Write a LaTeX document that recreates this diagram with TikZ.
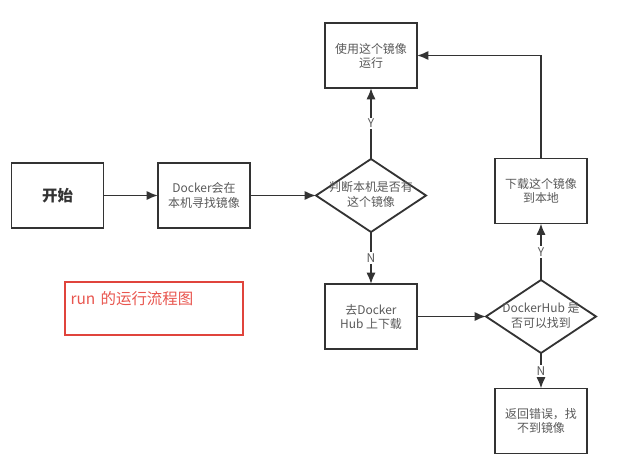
\documentclass[tikz,border=0pt]{standalone}
\usepackage{fontspec}
\setmainfont{Noto Sans CJK SC}
\usepackage{xcolor,tikz}
\usetikzlibrary{shapes.geometric,arrows.meta}
\definecolor{flowLine}{HTML}{333333}
\definecolor{flowText}{HTML}{595959}
\definecolor{flowRedLine}{HTML}{E0443C}
\definecolor{flowRedText}{HTML}{E8554E}

% text inside a diamond, kept out of the shape's size
\newcommand{\dtext}[1]{\smash{\makebox[0pt]{\raisebox{-0.25em}{%
  \begin{tabular}{@{}c@{}}#1\end{tabular}}}}}

\begin{document}
\begin{tikzpicture}[x=0.025cm, y=-0.025cm,
    stepbox/.style={draw=flowLine, line width=1.3pt, fill=white,
      minimum width=2.3cm, minimum height=1.625cm, align=center,
      inner sep=2pt, outer sep=0pt, text=flowText,
      font=\fontsize{8.5}{10}\selectfont},
    decision/.style={draw=flowLine, line width=1.3pt, diamond, fill=white,
      minimum width=2.75cm, minimum height=1.825cm, inner sep=0pt,
      outer sep=0pt, text=flowText, font=\fontsize{8.5}{10.5}\selectfont},
    flow/.style={draw=flowLine, line width=1.3pt,
      -{Latex[length=8pt,width=6.5pt]}},
    yn/.style={fill=white, text=flowText, inner sep=1pt,
      font=\fontsize{8.5}{10}\selectfont}]

\useasboundingbox (0,0) rectangle (638,460);

%% main line ==========================================================
\node[stepbox, font=\fontsize{11}{13}\selectfont\bfseries, text=flowLine]
  (start) at (57.5, 195.5) {开始};
\node[stepbox] (look) at (204, 195.5) {Docker会在\\本机寻找镜像};
\node[decision] (chk) at (371, 195.5) {\dtext{判断本机是否有\\这个镜像}};
\node[stepbox] (run) at (371, 55.5) {使用这个镜像\\运行};
\node[stepbox] (pull) at (371, 316.5) {去Docker\\Hub 上下载};
\node[decision] (found) at (541, 316.5) {\dtext{DockerHub 是\\否可以找到}};
\node[stepbox] (dl) at (541, 191) {下载这个镜像\\到本地};
\node[stepbox] (err) at (541, 421) {返回错误，找\\不到镜像};

%% caption box =========================================================
\node[draw=flowRedLine, line width=1pt, text=flowRedText,
      text width=4.45cm-8pt, text height=12pt, text depth=17.6pt,
      inner sep=4pt, align=left, font=\fontsize{11}{13}\selectfont]
  (note) at (154, 308.5) {run 的运行流程图};

%% connectors ==========================================================
\draw[flow] (start) -- (look);
\draw[flow] (look) -- (chk);
\draw[flow] (chk) -- node[yn] {Y} (run);
\draw[flow] (chk) -- node[yn] {N} (pull);
\draw[flow] (pull) -- (found);
\draw[flow] (found) -- node[yn] {Y} (dl);
\draw[flow] (found) -- node[yn] {N} (err);
\draw[flow] (dl.north) |- (run.east);

\end{tikzpicture}
\end{document}
